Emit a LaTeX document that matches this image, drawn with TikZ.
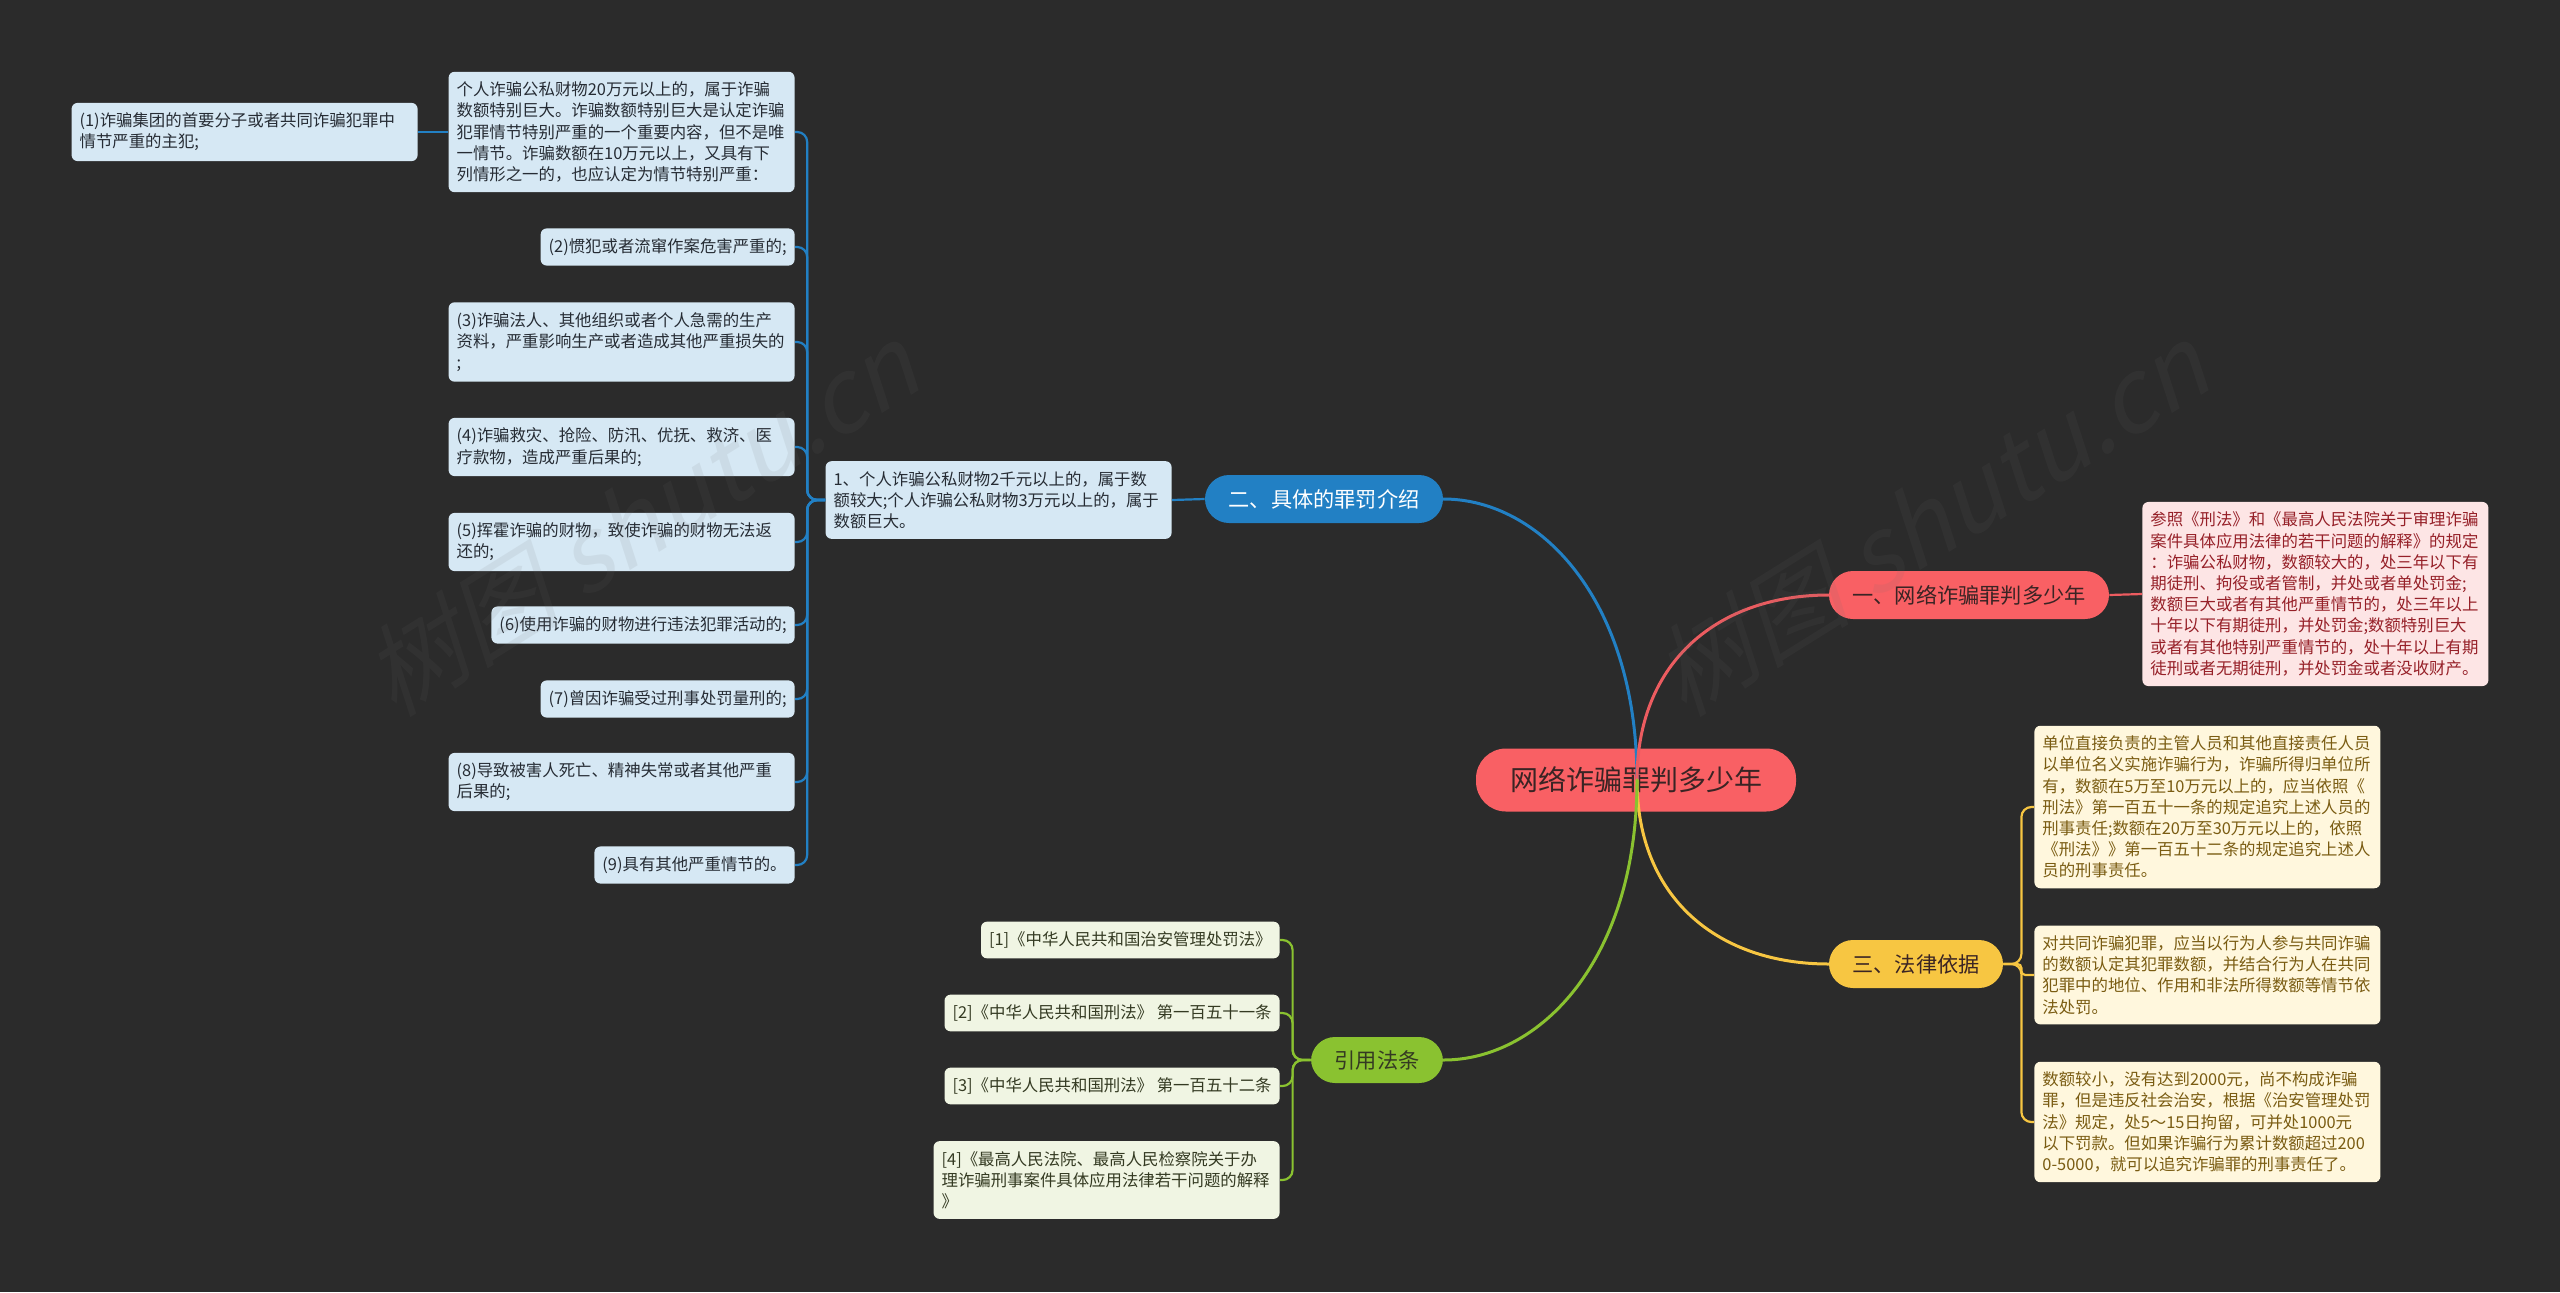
\documentclass[tikz,border=0pt]{standalone}
\usepackage{fontspec}
\setmainfont{Noto Sans CJK SC}
\newfontfamily\markfont[FakeSlant=0.25]{Noto Sans CJK SC}
\usepackage{xcolor}
\usepackage{tikz}
\usetikzlibrary{positioning, calc}

\definecolor{bgdark}{RGB}{43,43,43}
\definecolor{rootred}{RGB}{249,96,100}
\definecolor{lineblue}{RGB}{34,128,196}
\definecolor{linered}{RGB}{236,92,96}
\definecolor{lineyellow}{RGB}{247,198,66}
\definecolor{linegreen}{RGB}{138,194,48}
\definecolor{leafblue}{RGB}{214,232,244}
\definecolor{leafpink}{RGB}{253,229,229}
\definecolor{leafcream}{RGB}{255,247,221}
\definecolor{leafgreen}{RGB}{240,245,227}
\definecolor{inkdark}{RGB}{58,36,36}
\definecolor{inkblue}{RGB}{38,44,52}
\definecolor{inkred}{RGB}{150,32,40}
\definecolor{inkbrown}{RGB}{122,92,18}
\definecolor{inkgreen}{RGB}{52,58,34}
\definecolor{markgray}{RGB}{110,110,110}

\begin{document}
\begin{tikzpicture}[
    x=0.5pt, y=-0.5pt,
    root/.style={
        fill=rootred, text=inkdark, rounded corners=15pt,
        minimum width=160pt, minimum height=31.5pt, inner sep=0pt,
        font=\fontsize{14pt}{16pt}\selectfont
    },
    topic/.style={
        rounded corners=12pt, minimum height=24pt, inner sep=0pt,
        font=\fontsize{10.6pt}{12pt}\selectfont
    },
    leaf/.style={
        rounded corners=3pt, inner xsep=4pt, inner ysep=5pt, align=left,
        font=\fontsize{8.2pt}{10.6pt}\selectfont
    },
    para/.style={leaf, text width=165pt},
    blueleaf/.style={fill=leafblue, text=inkblue},
    pinkleaf/.style={fill=leafpink, text=inkred},
    creamleaf/.style={fill=leafcream, text=inkbrown},
    greenleaf/.style={fill=leafgreen, text=inkgreen},
    branch/.style={line width=1.5pt, line cap=round},
    twig/.style={line width=1.1pt, rounded corners=5pt},
    watermark/.style={text=markgray, opacity=0.1, rotate=32,
        font=\fontsize{50pt}{54pt}\markfont}
]
    \fill[bgdark] (0,0) rectangle (2560,1292);
    \useasboundingbox (0,0) rectangle (2560,1292);

    \node[root] (root) at (1636,780) {网络诈骗罪判多少年};
    \coordinate (hub) at (1637,780);

    \node[topic, fill=lineblue, text=white, minimum width=119pt] (penalty) at (1324,499) {二、具体的罪罚介绍};
    \node[topic, fill=rootred, text=inkdark, minimum width=140pt] (years) at (1969,595) {一、网络诈骗罪判多少年};
    \node[topic, fill=lineyellow, text=inkdark, minimum width=87pt] (basis) at (1916,964) {三、法律依据};
    \node[topic, fill=linegreen, text=inkgreen, minimum width=66pt, minimum height=23pt] (laws) at (1377,1060) {引用法条};

    \node[para, blueleaf, anchor=east] (amount) at (1172,500) {
        1、个人诈骗公私财物2千元以上的，属于数\\
        额较大;个人诈骗公私财物3万元以上的，属于\\
        数额巨大。
    };
    \node[para, blueleaf, anchor=east] (huge) at (795,132) {
        个人诈骗公私财物20万元以上的，属于诈骗\\
        数额特别巨大。诈骗数额特别巨大是认定诈骗\\
        犯罪情节特别严重的一个重要内容，但不是唯\\
        一情节。诈骗数额在10万元以上，又具有下\\
        列情形之一的，也应认定为情节特别严重：
    };
    \node[para, blueleaf, anchor=east] (ring) at (418,132) {
        (1)诈骗集团的首要分子或者共同诈骗犯罪中\\
        情节严重的主犯;
    };
    \node[leaf, blueleaf, anchor=east] (habit) at (795,247) {(2)惯犯或者流窜作案危害严重的;};
    \node[para, blueleaf, anchor=east] (means) at (795,342) {
        (3)诈骗法人、其他组织或者个人急需的生产\\
        资料，严重影响生产或者造成其他严重损失的\\
        ;
    };
    \node[para, blueleaf, anchor=east] (relief) at (795,447) {
        (4)诈骗救灾、抢险、防汛、优抚、救济、医\\
        疗款物，造成严重后果的;
    };
    \node[para, blueleaf, anchor=east] (squander) at (795,542) {
        (5)挥霍诈骗的财物，致使诈骗的财物无法返\\
        还的;
    };
    \node[leaf, blueleaf, anchor=east] (crime) at (795,625) {(6)使用诈骗的财物进行违法犯罪活动的;};
    \node[leaf, blueleaf, anchor=east] (record) at (795,699) {(7)曾因诈骗受过刑事处罚量刑的;};
    \node[para, blueleaf, anchor=east] (death) at (795,782) {
        (8)导致被害人死亡、精神失常或者其他严重\\
        后果的;
    };
    \node[leaf, blueleaf, anchor=east] (other) at (795,865) {(9)具有其他严重情节的。};

    \node[para, pinkleaf, anchor=west] (rule) at (2142,594) {
        参照《刑法》和《最高人民法院关于审理诈骗\\
        案件具体应用法律的若干问题的解释》的规定\\
        ：诈骗公私财物，数额较大的，处三年以下有\\
        期徒刑、拘役或者管制，并处或者单处罚金;\\
        数额巨大或者有其他严重情节的，处三年以上\\
        十年以下有期徒刑，并处罚金;数额特别巨大\\
        或者有其他特别严重情节的，处十年以上有期\\
        徒刑或者无期徒刑，并处罚金或者没收财产。
    };

    \node[para, creamleaf, anchor=west] (unit) at (2034,807) {
        单位直接负责的主管人员和其他直接责任人员\\
        以单位名义实施诈骗行为，诈骗所得归单位所\\
        有，数额在5万至10万元以上的，应当依照《\\
        刑法》第一百五十一条的规定追究上述人员的\\
        刑事责任;数额在20万至30万元以上的，依照\\
        《刑法》》第一百五十二条的规定追究上述人\\
        员的刑事责任。
    };
    \node[para, creamleaf, anchor=west] (joint) at (2034,975) {
        对共同诈骗犯罪，应当以行为人参与共同诈骗\\
        的数额认定其犯罪数额，并结合行为人在共同\\
        犯罪中的地位、作用和非法所得数额等情节依\\
        法处罚。
    };
    \node[para, creamleaf, anchor=west] (petty) at (2034,1122) {
        数额较小，没有达到2000元，尚不构成诈骗\\
        罪，但是违反社会治安，根据《治安管理处罚\\
        法》规定，处5～15日拘留，可并处1000元\\
        以下罚款。但如果诈骗行为累计数额超过200\\
        0-5000，就可以追究诈骗罪的刑事责任了。
    };

    \node[leaf, greenleaf, anchor=east] (lawa) at (1280,940) {[1]《中华人民共和国治安管理处罚法》};
    \node[leaf, greenleaf, anchor=east] (lawb) at (1280,1013) {[2]《中华人民共和国刑法》 第一百五十一条};
    \node[leaf, greenleaf, anchor=east] (lawc) at (1280,1086) {[3]《中华人民共和国刑法》 第一百五十二条};
    \node[para, greenleaf, anchor=east] (lawd) at (1280,1180) {
        [4]《最高人民法院、最高人民检察院关于办\\
        理诈骗刑事案件具体应用法律若干问题的解释\\
        》
    };

    \draw[branch, lineblue] (hub) .. controls (1637,600) and (1540,499) .. (penalty.east);
    \draw[branch, linered] (hub) .. controls (1637,660) and (1720,595) .. (years.west);
    \draw[branch, lineyellow] (hub) .. controls (1637,900) and (1720,964) .. (basis.west);
    \draw[branch, linegreen] (hub) .. controls (1637,960) and (1540,1060) .. (laws.east);

    \draw[twig, lineblue] (penalty.west) -- (amount.east);
    \draw[twig, lineblue] (amount.west) -- ++(-18,0) |- (huge.east);
    \draw[twig, lineblue] (amount.west) -- ++(-18,0) |- (habit.east);
    \draw[twig, lineblue] (amount.west) -- ++(-18,0) |- (means.east);
    \draw[twig, lineblue] (amount.west) -- ++(-18,0) |- (relief.east);
    \draw[twig, lineblue] (amount.west) -- ++(-18,0) |- (squander.east);
    \draw[twig, lineblue] (amount.west) -- ++(-18,0) |- (crime.east);
    \draw[twig, lineblue] (amount.west) -- ++(-18,0) |- (record.east);
    \draw[twig, lineblue] (amount.west) -- ++(-18,0) |- (death.east);
    \draw[twig, lineblue] (amount.west) -- ++(-18,0) |- (other.east);
    \draw[twig, lineblue] (huge.west) -- (ring.east);

    \draw[twig, linered] (years.east) -- (rule.west);

    \draw[twig, lineyellow] (basis.east) -- ++(18,0) |- (unit.west);
    \draw[twig, lineyellow, rounded corners=2pt] (basis.east) -- ++(18,0) |- (joint.west);
    \draw[twig, lineyellow] (basis.east) -- ++(18,0) |- (petty.west);

    \draw[twig, linegreen] (laws.west) -- ++(-18,0) |- (lawa.east);
    \draw[twig, linegreen] (laws.west) -- ++(-18,0) |- (lawb.east);
    \draw[twig, linegreen] (laws.west) -- ++(-18,0) |- (lawc.east);
    \draw[twig, linegreen] (laws.west) -- ++(-18,0) |- (lawd.east);

    \node[watermark] (markl) at (640,520) {树图 shutu.cn};
    \node[watermark] (markr) at (1930,520) {树图 shutu.cn};
\end{tikzpicture}
\end{document}
